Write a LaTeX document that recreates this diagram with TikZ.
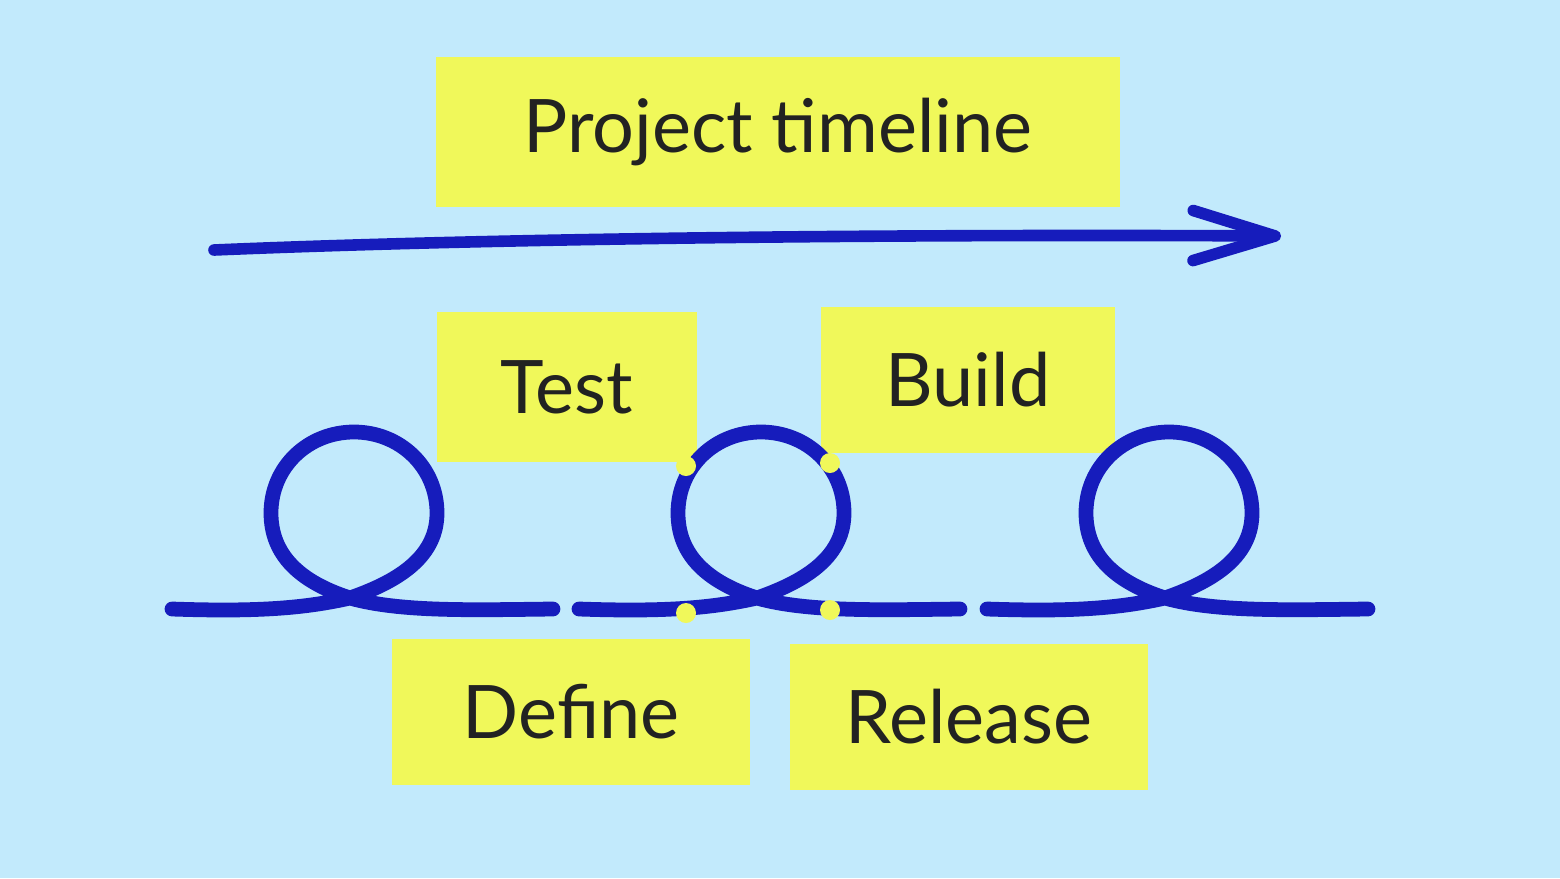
\documentclass[tikz,border=0pt]{standalone}
\usepackage{fontspec}
\setmainfont{Lato}
\usetikzlibrary{arrows.meta}
\definecolor{paper}{RGB}{194,234,252}
\definecolor{marker}{RGB}{240,248,90}
\definecolor{pen}{RGB}{22,28,188}
\definecolor{ink}{RGB}{34,34,34}
\tikzset{
  highlight/.style={fill=marker,text=ink,inner sep=0,font=\fontsize{21}{25}\selectfont},
  loopline/.style={draw=pen,line width=4.2pt,line cap=round},
  dot/.style={fill=marker}
}
\begin{document}
\begin{tikzpicture}[x=0.01cm,y=-0.01cm]
    \fill[paper] (0,0) rectangle (1560,878);
    \useasboundingbox (0,0) rectangle (1560,878);
    % labels on marker strips
    \node[highlight,minimum width=6.83cm,minimum height=1.49cm] (title) at (778,132) {Project timeline};
    \node[highlight,minimum width=2.6cm,minimum height=1.49cm] (test) at (567,387) {Test};
    \node[highlight,minimum width=2.93cm,minimum height=1.45cm] (build) at (968,380) {Build};
    \node[highlight,minimum width=3.58cm,minimum height=1.45cm] (define) at (571,712) {Define};
    \node[highlight,minimum width=3.58cm,minimum height=1.45cm] (release) at (969,717) {Release};
    % time arrow
    \coordinate (tstart) at (214,250);
    \coordinate (tend) at (1281,236);
    \draw[pen,line width=3.3pt,line cap=round,-{Straight Barb[length=8.2mm,width=5mm,round]}] (tstart) .. controls (500,238) and (900,234) .. (tend);
    % loops along the base line
    \foreach \dx in {0,407,815} {
      \draw[loopline,shift={(\dx,0)}] (172,609) .. controls (260,612) and (305,608) .. (350,598)
        .. controls (402,580) and (437,555) .. (437,513) .. controls (437,467) and (400,432) .. (354,432)
        .. controls (308,432) and (271,467) .. (271,513) .. controls (271,555) and (300,582) .. (350,598)
        .. controls (400,612) and (470,610) .. (553,609);
    }
    % markers on the middle loop
    \fill[dot] (686,466) circle (10);
    \fill[dot] (830,463) circle (10);
    \fill[dot] (686,613) circle (10);
    \fill[dot] (830,610) circle (10);
\end{tikzpicture}
\end{document}
